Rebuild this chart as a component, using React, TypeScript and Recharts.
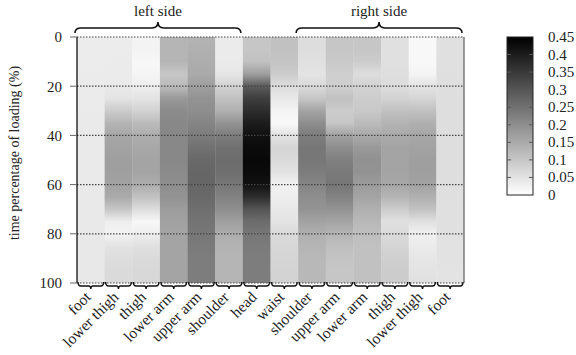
// Heatmap of segment loading over time: one bar per body segment, shaded top-to-bottom
// with a vertical gradient built from the sampled values. Colour bar drawn beside it.
import { Bar, BarChart, Cell, Label, ReferenceLine, XAxis, YAxis } from 'recharts';

const SEGMENTS = [
  'foot', 'lower thigh', 'thigh', 'lower arm', 'upper arm', 'shoulder', 'head',
  'waist', 'shoulder', 'upper arm', 'lower arm', 'thigh', 'lower thigh', 'foot',
];

// sample points along the loading time (%)
const TIME = [0, 5, 10, 15, 20, 25, 30, 35, 40, 45, 50, 55, 60, 65, 70, 75, 80, 85, 90, 95, 100];

const leftFoot = [0.034, 0.034, 0.034, 0.035, 0.035, 0.036, 0.036, 0.037, 0.037, 0.037, 0.037, 0.037, 0.037, 0.038, 0.038, 0.039, 0.039, 0.04, 0.04, 0.04, 0.04];
const leftLowerThigh = [0.034, 0.034, 0.035, 0.035, 0.037, 0.05, 0.09, 0.13, 0.155, 0.165, 0.17, 0.17, 0.165, 0.15, 0.1, 0.03, 0.022, 0.05, 0.06, 0.065, 0.065];
const leftThigh = [0.022, 0.022, 0.015, 0.018, 0.03, 0.05, 0.08, 0.12, 0.145, 0.155, 0.16, 0.16, 0.145, 0.11, 0.06, 0.015, 0.03, 0.055, 0.065, 0.068, 0.07];
const leftLowerArm = [0.13, 0.13, 0.13, 0.1, 0.12, 0.18, 0.205, 0.21, 0.21, 0.21, 0.21, 0.205, 0.2, 0.19, 0.175, 0.165, 0.16, 0.16, 0.16, 0.16, 0.16];
const leftUpperArm = [0.135, 0.14, 0.145, 0.15, 0.17, 0.19, 0.2, 0.215, 0.23, 0.25, 0.265, 0.27, 0.27, 0.265, 0.255, 0.245, 0.24, 0.235, 0.23, 0.23, 0.23];
const leftShoulder = [0.035, 0.035, 0.035, 0.045, 0.08, 0.11, 0.14, 0.19, 0.23, 0.25, 0.26, 0.255, 0.24, 0.22, 0.2, 0.17, 0.145, 0.135, 0.13, 0.13, 0.13];
const head = [0.1, 0.1, 0.11, 0.17, 0.29, 0.34, 0.37, 0.4, 0.42, 0.43, 0.435, 0.43, 0.42, 0.37, 0.3, 0.26, 0.24, 0.235, 0.23, 0.23, 0.23];
const waist = [0.11, 0.11, 0.105, 0.09, 0.06, 0.04, 0.02, 0.012, 0.05, 0.075, 0.065, 0.05, 0.025, 0.03, 0.04, 0.05, 0.065, 0.07, 0.075, 0.078, 0.08];
const rightShoulder = [0.06, 0.06, 0.055, 0.05, 0.065, 0.1, 0.16, 0.2, 0.23, 0.24, 0.24, 0.23, 0.215, 0.2, 0.19, 0.165, 0.14, 0.13, 0.125, 0.125, 0.125];
const rightUpperArm = [0.1, 0.1, 0.095, 0.085, 0.085, 0.11, 0.09, 0.1, 0.165, 0.2, 0.225, 0.235, 0.24, 0.22, 0.19, 0.16, 0.13, 0.115, 0.105, 0.1, 0.1];
const rightLowerArm = [0.1, 0.1, 0.09, 0.06, 0.08, 0.09, 0.095, 0.12, 0.15, 0.18, 0.195, 0.19, 0.175, 0.16, 0.14, 0.125, 0.115, 0.11, 0.11, 0.11, 0.11];
const rightThigh = [0.055, 0.055, 0.055, 0.058, 0.06, 0.08, 0.11, 0.135, 0.15, 0.16, 0.16, 0.16, 0.155, 0.13, 0.09, 0.055, 0.065, 0.075, 0.085, 0.09, 0.09];
const rightLowerThigh = [0.012, 0.012, 0.012, 0.02, 0.05, 0.075, 0.11, 0.14, 0.155, 0.165, 0.17, 0.17, 0.165, 0.14, 0.11, 0.055, 0.025, 0.035, 0.045, 0.05, 0.055];
const rightFoot = [0.055, 0.055, 0.055, 0.056, 0.057, 0.058, 0.058, 0.058, 0.058, 0.058, 0.058, 0.058, 0.057, 0.056, 0.055, 0.054, 0.053, 0.052, 0.051, 0.05, 0.05];

const COLUMNS = [
  leftFoot, leftLowerThigh, leftThigh, leftLowerArm, leftUpperArm, leftShoulder, head,
  waist, rightShoulder, rightUpperArm, rightLowerArm, rightThigh, rightLowerThigh, rightFoot,
];

const Y_TICKS = [0, 20, 40, 60, 80, 100];
const CBAR_TICKS = [0, 0.05, 0.1, 0.15, 0.2, 0.25, 0.3, 0.35, 0.4, 0.45];
const GROUPS = [
  { label: 'left side', first: 0, count: 6 },
  { label: 'right side', first: 8, count: 6 },
];

const VMAX = 0.45;
const W = 576;
const H = 355;
const PLOT_L = 77;
const PLOT_R = 464;
const PLOT_T = 37;
const PLOT_B = 283;
const COL_W = (PLOT_R - PLOT_L) / SEGMENTS.length;
const FONT = '"Liberation Serif", "Times New Roman", serif';

function gray(v: number) {
  const g = Math.round(255 * (1 - Math.min(Math.max(v / VMAX, 0), 1)));
  return `rgb(${g},${g},${g})`;
}

const data = SEGMENTS.map((name, i) => ({ idx: i, name, span: 100 }));

function BottomTick({ x, y, payload }: any) {
  const l = x - COL_W / 2;
  const r = x + COL_W / 2;
  const y0 = y - 1;
  const y1 = y + 3;
  const d = `M${l + 1},${y0} Q${l + 1},${y1} ${l + 4},${y1} L${x - 2},${y1} Q${x},${y1} ${x},${y1 + 3} Q${x},${y1} ${x + 2},${y1} L${r - 4},${y1} Q${r - 1},${y1} ${r - 1},${y0}`;
  const tx = x + 1;
  const ty = y + 15;
  return (
    <g>
      <path d={d} fill="none" stroke="#111" strokeWidth={1.4} />
      <text
        x={tx}
        y={ty}
        transform={`rotate(-45 ${tx} ${ty})`}
        textAnchor="end"
        fontFamily={FONT}
        fontSize={15.5}
        fill="#222"
      >
        {SEGMENTS[payload.value]}
      </text>
    </g>
  );
}

function TopTick({ x, payload }: any) {
  const group = GROUPS.find((g) => g.first === payload.value);
  if (!group) return null;
  const l = x - COL_W / 2 - 2;
  const r = l + COL_W * group.count;
  const c = (l + r) / 2;
  const y0 = 33;
  const y1 = 28;
  const y2 = 22;
  const d = `M${l},${y0} Q${l},${y1} ${l + 6},${y1} L${c - 6},${y1} Q${c},${y1} ${c},${y2} Q${c},${y1} ${c + 6},${y1} L${r - 6},${y1} Q${r},${y1} ${r},${y0}`;
  return (
    <g>
      <path d={d} fill="none" stroke="#111" strokeWidth={1.6} />
      <text x={c} y={16} textAnchor="middle" fontFamily={FONT} fontSize={15} fill="#222">
        {group.label}
      </text>
    </g>
  );
}

function ColorBar() {
  const x = 507;
  const w = 26;
  const top = PLOT_T;
  const h = 158;
  const yOf = (v: number) => top + h - (v / VMAX) * h;
  return (
    <svg width={W} height={H} style={{ position: 'absolute', left: 0, top: 0, pointerEvents: 'none' }}>
      <defs>
        <linearGradient id="cbar" x1="0" y1="1" x2="0" y2="0">
          {CBAR_TICKS.map((v) => (
            <stop key={v} offset={v / VMAX} stopColor={gray(v)} />
          ))}
        </linearGradient>
      </defs>
      <rect x={x} y={top} width={w} height={h} fill="url(#cbar)" stroke="#222" strokeWidth={1} />
      {CBAR_TICKS.map((v) => (
        <g key={v}>
          {v > 0 && v < VMAX && (
            <>
              <line x1={x} x2={x + 4} y1={yOf(v)} y2={yOf(v)} stroke="#555" />
              <line x1={x + w - 4} x2={x + w} y1={yOf(v)} y2={yOf(v)} stroke="#555" />
            </>
          )}
          <text x={548} y={yOf(v) + 5} fontFamily={FONT} fontSize={15} fill="#222">
            {String(v)}
          </text>
        </g>
      ))}
    </svg>
  );
}

export default function App() {
  return (
    <div style={{ position: 'absolute', left: 0, top: 0, width: W, height: H, background: '#fff' }}>
      <BarChart
        width={W}
        height={H}
        data={data}
        margin={{ top: 0, right: 0, bottom: 0, left: 0 }}
        barCategoryGap={0}
        barGap={0}
      >
        <defs>
          {COLUMNS.map((col, i) => (
            <linearGradient key={i} id={`col${i}`} x1="0" y1="0" x2="0" y2="1">
              {col.map((v, j) => (
                <stop key={j} offset={TIME[j] / 100} stopColor={gray(v)} />
              ))}
            </linearGradient>
          ))}
        </defs>
        <XAxis
          dataKey="idx"
          interval={0}
          height={H - PLOT_B}
          tickLine={false}
          axisLine={false}
          tickSize={0}
          tickMargin={0}
          tick={<BottomTick />}
        />
        <XAxis
          xAxisId="top"
          dataKey="idx"
          orientation="top"
          interval={0}
          height={PLOT_T}
          tickLine={false}
          axisLine={false}
          tickSize={0}
          tickMargin={0}
          tick={<TopTick />}
        />
        <YAxis
          yAxisId="left"
          reversed
          type="number"
          domain={[0, 100]}
          ticks={Y_TICKS}
          width={PLOT_L}
          tickSize={7}
          tickMargin={8}
          axisLine={{ stroke: '#111', strokeWidth: 1.3 }}
          tickLine={{ stroke: '#666' }}
          tick={{ fontFamily: FONT, fontSize: 15, fill: '#222' }}
        >
          <Label
            content={() => (
              <text
                x={19}
                y={153}
                transform="rotate(-90 19 153)"
                textAnchor="middle"
                fontFamily={FONT}
                fontSize={14}
                fill="#222"
              >
                time percentage of loading (%)
              </text>
            )}
          />
        </YAxis>
        <YAxis
          yAxisId="right"
          orientation="right"
          reversed
          type="number"
          domain={[0, 100]}
          ticks={Y_TICKS}
          width={W - PLOT_R}
          tickSize={7}
          tickFormatter={() => ''}
          axisLine={{ stroke: '#444', strokeWidth: 1 }}
          tickLine={{ stroke: '#666' }}
        />
        <Bar yAxisId="left" dataKey="span" isAnimationActive={false}>
          {data.map((d) => (
            <Cell key={d.idx} fill={`url(#col${d.idx})`} />
          ))}
        </Bar>
        {Y_TICKS.map((t) => (
          <ReferenceLine
            key={t}
            yAxisId="left"
            y={t}
            stroke="#444"
            strokeWidth={1.2}
            strokeDasharray="1.5 1.5"
          />
        ))}
      </BarChart>
      <ColorBar />
    </div>
  );
}
